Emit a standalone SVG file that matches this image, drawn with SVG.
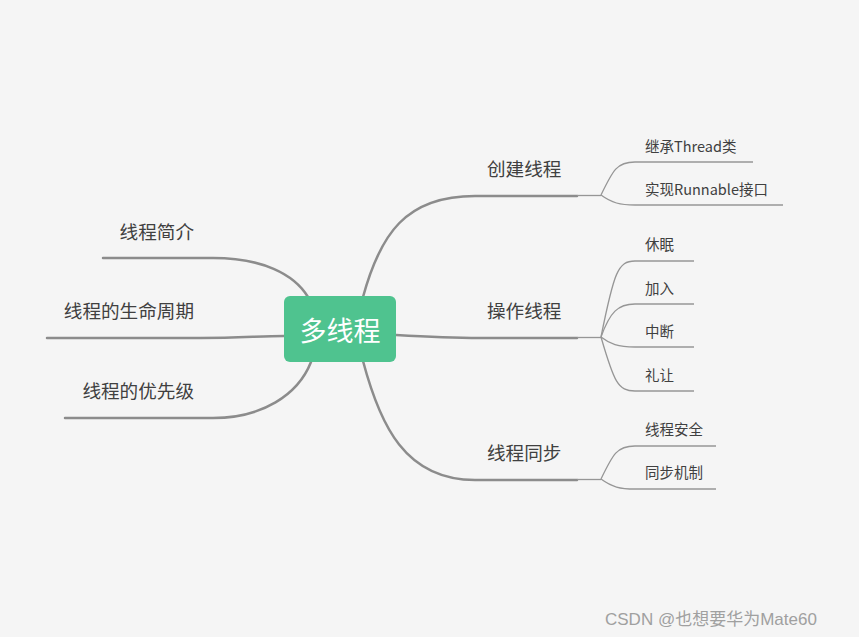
<svg xmlns="http://www.w3.org/2000/svg" width="859" height="637" viewBox="0 0 859 637">
<style>
.main{fill:none;stroke:#8c8c8c;stroke-width:2.5;stroke-linecap:round}
.sub{fill:none;stroke:#969696;stroke-width:1.3}
.t1{font-family:"Noto Sans CJK SC","Liberation Sans",sans-serif;font-size:18.6px;fill:#404040;dominant-baseline:central}
.t2{font-family:"Noto Sans CJK SC","Liberation Sans",sans-serif;font-size:14.5px;fill:#404040;dominant-baseline:central}
</style>
<rect width="859" height="637" fill="#f5f5f5"/>
<g id="connectors">
<path class="main" d="M363,297 C380,235 405,196 475,196 H577"/>
<path class="main" d="M396,335 C430,337 450,338 480,338 H577"/>
<path class="main" d="M363,361 C380,425 405,480 475,480 H577"/>
<path class="main" d="M103,258 H213 C262,258 294,274 308,297"/>
<path class="main" d="M47,338 H200 C240,338 260,336 284,336"/>
<path class="main" d="M65,418 H213 C262,418 298,395 311,362"/>
<path class="sub" d="M577,195.5 H601"/>
<path class="sub" d="M601,195 C613,170 617,162 635,162 H753"/>
<path class="sub" d="M601,195 C612,203 620,205 635,205 H783"/>
<path class="sub" d="M577,337.5 H601"/>
<path class="sub" d="M601,337 C614,272 618,261 635,261 H694"/>
<path class="sub" d="M601,337 C610,312 618,304 635,304 H694"/>
<path class="sub" d="M601,337 C610,344 618,347 635,347 H694"/>
<path class="sub" d="M601,337 C614,382 618,391 635,391 H694"/>
<path class="sub" d="M577,479.5 H601"/>
<path class="sub" d="M601,479 C613,454 617,446 635,446 H716"/>
<path class="sub" d="M601,479 C612,487 620,489 635,489 H716"/>
</g>
<g id="root">
<rect x="284" y="296" width="112" height="66" rx="6" fill="#4fc38f"/>
<text x="340" y="329" text-anchor="middle" font-family="'Noto Sans CJK SC',sans-serif" font-size="27" fill="#ffffff" dominant-baseline="central">多线程</text>
</g>
<g id="n-create"><text class="t1" x="487" y="167.5">创建线程</text></g>
<g id="n-operate"><text class="t1" x="487" y="309.5">操作线程</text></g>
<g id="n-sync"><text class="t1" x="487" y="451.5">线程同步</text></g>
<g id="n-intro"><text class="t1" x="194" y="230.5" text-anchor="end">线程简介</text></g>
<g id="n-life"><text class="t1" x="194" y="309.5" text-anchor="end">线程的生命周期</text></g>
<g id="n-prio"><text class="t1" x="194" y="389.5" text-anchor="end">线程的优先级</text></g>
<g id="n-thread"><text class="t2" x="645" y="145">继承Thread类</text></g>
<g id="n-runnable"><text class="t2" x="645" y="188">实现Runnable接口</text></g>
<g id="n-sleep"><text class="t2" x="645" y="243">休眠</text></g>
<g id="n-join"><text class="t2" x="645" y="287">加入</text></g>
<g id="n-interrupt"><text class="t2" x="645" y="330">中断</text></g>
<g id="n-yield"><text class="t2" x="645" y="374">礼让</text></g>
<g id="n-safe"><text class="t2" x="645" y="428">线程安全</text></g>
<g id="n-mech"><text class="t2" x="645" y="471">同步机制</text></g>
<text x="605" y="619" font-family="'Liberation Sans','Noto Sans CJK SC',sans-serif" font-size="17" fill="#a0a0a0" dominant-baseline="central">CSDN @也想要华为Mate60</text>
</svg>
